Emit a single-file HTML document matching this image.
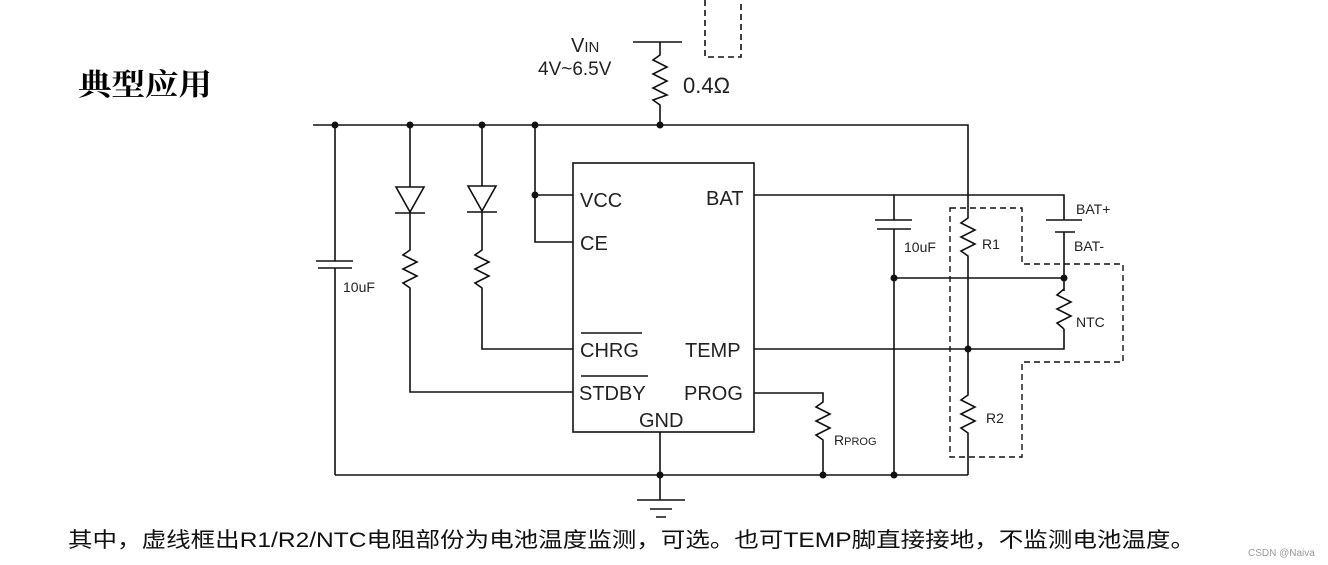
<!DOCTYPE html>
<html><head><meta charset="utf-8"><style>
body{margin:0;background:#fff;width:1328px;height:565px;overflow:hidden;}
svg{display:block}
text{font-family:"Liberation Sans","DejaVu Sans",sans-serif;fill:#222}
.cj{font-family:"Liberation Sans","Noto Serif CJK SC","Noto Sans CJK SC",sans-serif}
.cs{font-family:"Liberation Sans","Noto Sans CJK SC",sans-serif}
</style></head><body>
<svg width="1328" height="565" viewBox="0 0 1328 565" xmlns="http://www.w3.org/2000/svg">
<g stroke="#111" stroke-width="1.6" fill="none">
<path d="M705 0 V57 H741 V0" stroke-dasharray="6,4"/>
<path d="M633 42 H682 M660 42 V55 L653 60 L667 67 L653 74 L667 81 L653 88 L667 95 L653 100 L660 105 V125"/>
<path d="M313 125 H968 V208"/>
<path d="M335 125 V261 M316 261 H353 M318 268 H352 M335 268 V475"/>
<path d="M410 125 V187 M396 187 H424 L410 212 Z M395 213 H425 M410 213 V250 L403 255 L417 262 L403 269 L417 276 L403 283 L410 288 V392 H573"/>
<path d="M482 125 V186 M468 186 H496 L482 211 Z M467 212 H497 M482 212 V250 L475 255 L489 262 L475 269 L489 276 L475 283 L482 288 V349 H573"/>
<path d="M535 125 V242 H573 M535 195 H573"/>
<rect x="573" y="163" width="181" height="269"/>
<path d="M754 195 H1064 V220 M1046 220 H1082 M1055 232 H1075 M1064 232 V349 H754"/>
<path d="M894 195 V220 M875 220 H912 M877 229 H911 M894 229 V475"/>
<path d="M894 278 H1064"/>
<path d="M968 208 V218 L961 223 L975 230 L961 237 L975 244 L961 251 L968 256 V395 L961 400 L975 407 L961 414 L975 421 L961 428 L968 433 V475"/>
<path d="M754 393 H823 V402 L816 407 L830 414 L816 421 L830 428 L816 435 L823 440 V475"/>
<path d="M335 475 H968"/>
<path d="M660 432 V500 M637 500 H685 M650 509 H672 M656 517 H666"/>
<path d="M950 208 H1022 V264 H1123 V362 H1022 V457 H950 Z" stroke-dasharray="6,4" stroke-width="1.4"/>
<path d="M581 333 H642 M581 376 H648" stroke-width="1.4"/>
</g>
<rect x="1058" y="291" width="12" height="38" fill="#fff"/>
<path d="M1064 289 L1057 295 L1071 302 L1057 309 L1071 316 L1057 323 L1064 329" stroke="#111" stroke-width="1.6" fill="none"/>
<g fill="#111">
<circle cx="335" cy="125" r="3.5"/><circle cx="410" cy="125" r="3.5"/><circle cx="482" cy="125" r="3.5"/><circle cx="535" cy="125" r="3.5"/><circle cx="660" cy="125" r="3.5"/><circle cx="535" cy="195" r="3.5"/>
<circle cx="894" cy="278" r="3.5"/><circle cx="1064" cy="278" r="3.5"/><circle cx="968" cy="349" r="3.5"/>
<circle cx="823" cy="475" r="3.5"/><circle cx="894" cy="475" r="3.5"/><circle cx="660" cy="475" r="3.5"/>
</g>
<text x="78" y="95" font-size="30" font-weight="bold" class="cj" style="fill:#000" textLength="134" lengthAdjust="spacingAndGlyphs">典型应用</text>
<text x="571" y="52" font-size="20">V<tspan font-size="15">IN</tspan></text>
<text x="538" y="75" font-size="19">4V~6.5V</text>
<text x="683" y="93" font-size="22">0.4Ω</text>
<g font-size="20">
<text x="580" y="207">VCC</text>
<text x="580" y="250">CE</text>
<text x="580" y="357">CHRG</text>
<text x="579" y="400">STDBY</text>
<text x="706" y="205">BAT</text>
<text x="685" y="357">TEMP</text>
<text x="684" y="400">PROG</text>
<text x="639" y="427">GND</text>
</g>
<g font-size="14">
<text x="343" y="292">10uF</text>
<text x="904" y="252">10uF</text>
<text x="982" y="249">R1</text>
<text x="986" y="423">R2</text>
<text x="1076" y="327">NTC</text>
<text x="1076" y="214">BAT+</text>
<text x="1074" y="251">BAT-</text>
<text x="834" y="445">R<tspan font-size="11">PROG</tspan></text>
</g>
<text x="68" y="547" font-size="21" class="cs" style="fill:#111" textLength="1127" lengthAdjust="spacingAndGlyphs">其中，虚线框出R1/R2/NTC电阻部份为电池温度监测，可选。也可TEMP脚直接接地，不监测电池温度。</text>
<text x="1248" y="556" font-size="10" style="fill:#999">CSDN @Naiva</text>
</svg>
</body></html>
